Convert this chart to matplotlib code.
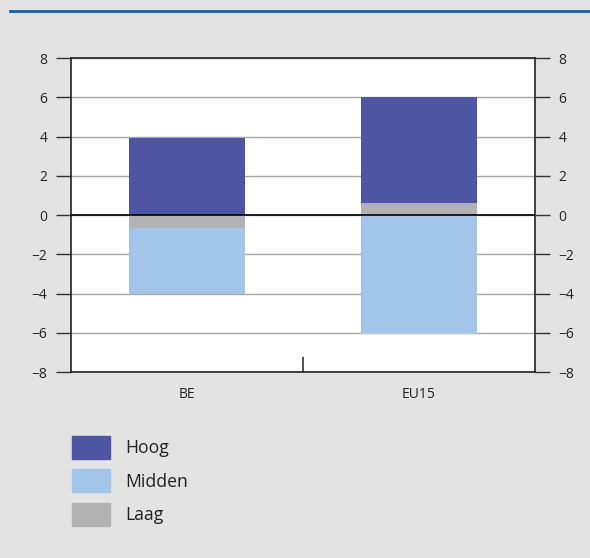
import matplotlib
matplotlib.use("Agg")
import matplotlib.pyplot as plt
import numpy as np
from matplotlib.patches import Patch
from matplotlib.lines import Line2D

plt.rcParams['font.family'] = ['Open Sans', 'DejaVu Sans']

categories = ['BE', 'EU15']
hoog = [3.95, 5.4]
midden = [-3.35, -6.05]
laag = [-0.65, 0.6]

c_hoog = '#4e55a1'
c_midden = '#a3c5ea'
c_laag = '#b2b2b2'
bg = '#e3e3e3'

fig = plt.figure(figsize=(5.9, 5.58), dpi=100, facecolor=bg)
ax = fig.add_axes([0.1203, 0.3333, 0.7864, 0.5627])
ax.set_facecolor('white')
ax.set_axisbelow(True)

x = np.arange(len(categories))
w = 0.5
hoog = np.array(hoog)
midden = np.array(midden)
laag = np.array(laag)

# laag sits against zero, hoog on top of positive laag, midden below negative laag
pos_laag = np.where(laag > 0, laag, 0)
neg_laag = np.where(laag < 0, laag, 0)
ax.bar(x, laag, w, color=c_laag, zorder=2)
ax.bar(x, hoog, w, bottom=pos_laag, color=c_hoog, zorder=2)
ax.bar(x, midden, w, bottom=neg_laag, color=c_midden, zorder=2)

ax.set_xlim(-0.5, 1.5)
ax.set_ylim(-8, 8)
ax.set_yticks(range(-8, 9, 2))
ax.set_yticklabels([str(v).replace('-', '\u2212') for v in range(-8, 9, 2)])
ax.grid(axis='y', color='#a6a6a6', linewidth=1)
ax.axhline(0, color='black', linewidth=1.2, zorder=3)

ax.set_xticks([0.5])
ax.set_xticklabels([''])
ax.tick_params(axis='x', direction='in', length=11, width=1.2, color='#333333')
for i, c in enumerate(categories):
    ax.text(x[i], -9.15, c, ha='center', va='center', fontsize=10, color='#222222')

ax.tick_params(axis='y', which='both', left=True, right=True, labelleft=True,
               labelright=True, direction='out', length=11, width=1,
               color='#333333', labelsize=10, labelcolor='#222222', pad=6)
for s in ax.spines.values():
    s.set_color('#222222')
    s.set_linewidth(1.2)

handles = [Patch(color=c_hoog), Patch(color=c_midden), Patch(color=c_laag)]
leg = fig.legend(handles, ['Hoog', 'Midden', 'Laag'], loc='upper left',
                 bbox_to_anchor=(0.0949, 0.2473), frameon=False, fontsize=12.7,
                 handlelength=2.15, handleheight=1.63, labelspacing=0.6,
                 handletextpad=0.85, labelcolor='#222222')

fig.add_artist(Line2D([10 / 590, 1.0], [1 - 10.5 / 558] * 2, color='#1f5c9e',
                      linewidth=2, transform=fig.transFigure))

fig.savefig('out.png', dpi=100, facecolor=bg)
